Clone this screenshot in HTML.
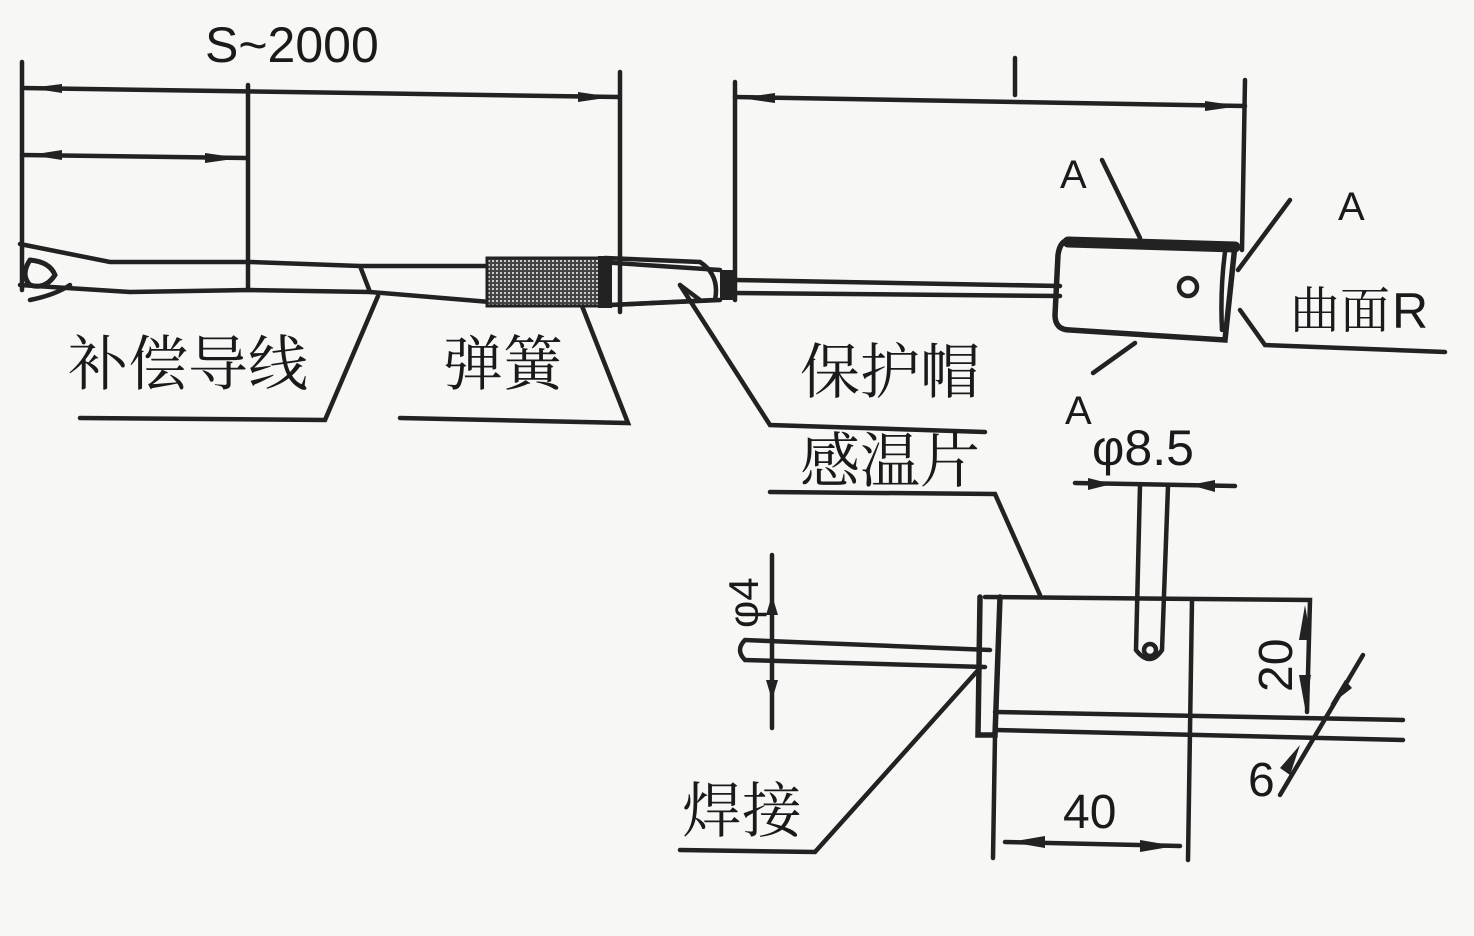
<!DOCTYPE html>
<html><head><meta charset="utf-8"><style>
html,body{margin:0;padding:0;background:#f7f7f5;}
svg{display:block}
text{font-family:"Liberation Sans","Noto Sans CJK SC",sans-serif;fill:#1a1a1a}
.c{font-family:"Noto Serif CJK SC","Noto Sans CJK SC",sans-serif;font-weight:400}
</style></head><body>
<svg width="1474" height="936" viewBox="0 0 1474 936" xmlns="http://www.w3.org/2000/svg">
<defs>
<pattern id="h" width="4" height="4" patternUnits="userSpaceOnUse"><rect width="4" height="4" fill="#444"/><rect width="2" height="2" fill="#ccc"/></pattern>
</defs>
<g stroke="#222" stroke-width="4.5" fill="none" stroke-linecap="round">
<line x1="22" y1="62" x2="22" y2="290"/>
<line x1="248" y1="85" x2="248" y2="290"/>
<line x1="620" y1="72" x2="620" y2="312"/>
<line x1="22" y1="88" x2="618" y2="97"/>
<line x1="22" y1="155" x2="246" y2="158"/>
<line x1="735" y1="82" x2="735" y2="300"/>
<line x1="1245" y1="80" x2="1242" y2="250"/>
<line x1="735" y1="97" x2="1245" y2="106"/>
<line x1="1015" y1="58" x2="1015" y2="95"/>
<path d="M20,244 L110,262 L250,262 L360,266 L490,266 L600,262 L720,270"/>
<path d="M20,285 L130,292 L250,290 L370,292 L490,302 L610,305 L720,300"/>
<path d="M30,260 Q20,275 30,285 Q45,290 55,275 Q50,262 30,260" stroke-width="5"/>
<path d="M30,300 Q55,295 70,285"/>
<line x1="360" y1="266" x2="370" y2="292"/>
<path d="M605,258 L700,262 Q720,275 715,300 L610,305"/>
<line x1="680" y1="285" x2="700" y2="300"/>
<line x1="735" y1="280" x2="1060" y2="286"/>
<line x1="735" y1="293" x2="1060" y2="296"/>
<path d="M1070,240 L1235,245 L1225,340 L1070,330 Q1055,330 1055,315 L1058,255 Q1060,240 1070,240 Z" stroke-width="5.5"/>
<line x1="1068" y1="242" x2="1235" y2="247" stroke-width="11"/>
<path d="M1225,252 Q1220,290 1222,330"/>
<circle cx="1188" cy="287" r="9"/>
<line x1="1102" y1="160" x2="1140" y2="238"/>
<line x1="1290" y1="200" x2="1238" y2="270"/>
<path d="M1240,310 L1265,345 L1445,352"/>
<line x1="1093" y1="373" x2="1135" y2="343"/>
<path d="M80,418 L325,420 L378,296"/>
<path d="M400,418 L628,423 L582,306"/>
<path d="M680,285 L770,425 L985,432"/>
<line x1="1075" y1="483" x2="1235" y2="486"/>
<path d="M1140,485 L1136,650 Q1150,668 1162,650 L1168,486"/>
<circle cx="1150" cy="650" r="6"/>
<path d="M985,597 L1310,600 L1307,712"/>
<path d="M980,597 L978,735 L995,735 L1000,597" stroke-width="5.5"/>
<line x1="1192" y1="600" x2="1188" y2="860"/>
<line x1="995" y1="735" x2="993" y2="858"/>
<line x1="995" y1="712" x2="1403" y2="720"/>
<line x1="995" y1="730" x2="1403" y2="740"/>
<line x1="1005" y1="842" x2="1180" y2="846"/>
<line x1="1280" y1="795" x2="1363" y2="655"/>
<line x1="772" y1="555" x2="772" y2="728"/>
<path d="M990,650 L745,640 Q735,650 745,660 L985,667"/>
<path d="M680,850 L815,852 L980,668"/>
<path d="M770,492 L995,494 L1040,595"/>
</g>
<g fill="#222">
<polygon points="30,88 62,84 62,93"/><polygon points="612,97 578,92 578,102"/>
<polygon points="30,155 62,150 62,160"/><polygon points="240,158 205,153 205,163"/>
<polygon points="740,98 775,93 775,103"/><polygon points="1240,106 1205,101 1205,111"/>
<polygon points="1112,484 1088,478 1088,490"/><polygon points="1190,485 1215,480 1215,492"/>
<polygon points="772,595 766,615 778,615"/><polygon points="772,700 766,680 778,680"/>
<polygon points="1010,842 1045,836 1045,848"/><polygon points="1175,846 1140,840 1140,852"/>
<polygon points="1305,605 1299,640 1311,640"/><polygon points="1305,708 1299,675 1311,675"/>
<polygon points="1330,705 1345,680 1352,688"/><polygon points="1300,745 1290,775 1280,768"/>
<rect x="487" y="258" width="118" height="48" fill="url(#h)" stroke="#222" stroke-width="3"/>
<rect x="598" y="256" width="14" height="52"/>
<rect x="720" y="270" width="14" height="30"/>
</g>
<text x="205" y="62" font-size="50">S~2000</text>
<text x="1060" y="188" font-size="40">A</text>
<text x="1338" y="220" font-size="40">A</text>
<text x="1065" y="424" font-size="40">A</text>
<text x="1290" y="328" font-size="50" class="c">曲面</text><text x="1392" y="328" font-size="50">R</text>
<text x="68" y="385" font-size="60" class="c">补偿导线</text>
<text x="443" y="385" font-size="60" class="c">弹簧</text>
<text x="800" y="393" font-size="60" class="c">保护帽</text>
<text x="800" y="482" font-size="60" class="c">感温片</text>
<text x="682" y="832" font-size="60" class="c">焊接</text>
<text x="1092" y="465" font-size="50">φ8.5</text>
<text x="1063" y="828" font-size="48">40</text>
<text x="1248" y="796" font-size="48">6</text>
<text transform="translate(1292,692) rotate(-90)" font-size="48">20</text>
<text transform="translate(758,628) rotate(-90)" font-size="42">φ4</text>
</svg>
</body></html>
